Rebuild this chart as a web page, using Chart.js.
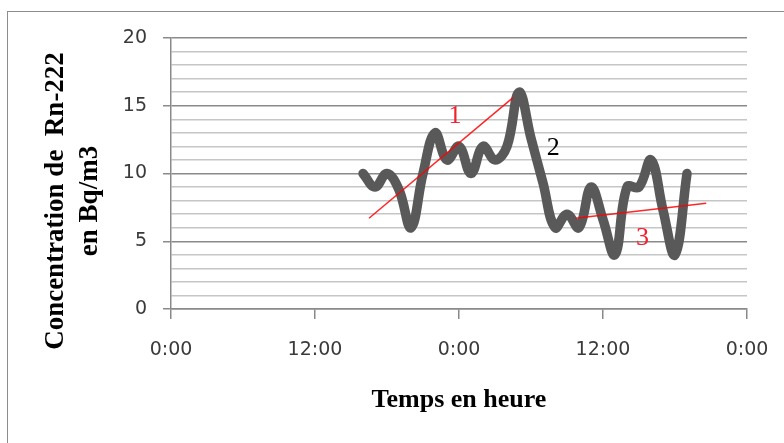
<!DOCTYPE html>
<html>
<head>
<meta charset="utf-8">
<script src="https://cdn.jsdelivr.net/npm/chart.js@4.4.1/dist/chart.umd.min.js"></script>
<style>
  html, body { margin: 0; background: #fff; }
  #frame { position: absolute; left: 7px; top: 11px; width: 820px; height: 520px; border: 1px solid #8c8c8c; }
  #chart { position: absolute; left: 0; top: 0; }
</style>
</head>
<body>
<div id="frame"></div>
<canvas id="chart" width="784" height="443"></canvas>
<script>
// hours since the first midnight, radon in Bq/m3
const hours = [16, 17, 18, 19, 20, 21, 22, 23, 24, 25, 26, 27, 28, 29,
  30, 31, 32, 33, 34, 35, 36, 37, 38, 39, 40, 41, 42, 43];
const radon = [10, 9, 10, 8.8, 6, 10, 13, 11, 12, 10, 12, 11, 12, 16,
  12.6, 9.3, 6, 7, 6, 9, 6.6, 4, 9, 9, 11, 7.3, 4, 10];

const trend1Hours = [16.5, 28.5];
const trend1Values = [6.7, 15.6];
const trend3Hours = [33.7, 44.6];
const trend3Values = [6.7, 7.8];

const labelText = ["1", "2", "3"];
const labelHours = [23.67, 31.86, 39.3];
const labelValues = [14.2, 11.87, 5.22];
const labelColors = ["#f0202c", "#000000", "#f0202c"];

const xTicks = [0, 12, 24, 36, 48];
const xTickLabels = ["0:00", "12:00", "0:00", "12:00", "0:00"];
const yTitleLines = ["Concentration de  Rn-222", "en Bq/m3"];
const xTitle = "Temps en heure";

const pts = (xs, ys) => xs.map((x, i) => ({ x, y: ys[i] }));

const major = "#8a8a8a";
const minor = "#c6c6c6";

const yTitlePlugin = {
  id: "yTitle",
  afterDraw(chart) {
    const ctx = chart.ctx;
    ctx.save();
    ctx.font = "bold 27px 'Liberation Serif'";
    ctx.fillStyle = "#000";
    ctx.textAlign = "center";
    ctx.textBaseline = "middle";
    yTitleLines.forEach((line, i) => {
      ctx.save();
      ctx.translate(56 + i * 34, 201);
      ctx.rotate(-Math.PI / 2);
      ctx.fillText(line, 0, 0);
      ctx.restore();
    });
    ctx.restore();
  },
};

const labelsPlugin = {
  id: "trendLabels",
  afterDatasetsDraw(chart) {
    const { ctx, scales } = chart;
    ctx.save();
    ctx.font = "26px 'Liberation Serif'";
    ctx.textAlign = "center";
    ctx.textBaseline = "middle";
    labelText.forEach((t, i) => {
      ctx.fillStyle = labelColors[i];
      ctx.fillText(t, scales.x.getPixelForValue(labelHours[i]), scales.y.getPixelForValue(labelValues[i]));
    });
    ctx.restore();
  },
};

new Chart(document.getElementById("chart"), {
  type: "scatter",
  data: {
    datasets: [
      {
        data: pts(trend1Hours, trend1Values),
        showLine: true,
        borderColor: "rgba(255,0,0,0.85)",
        borderWidth: 1.5,
        pointRadius: 0,
      },
      {
        data: pts(trend3Hours, trend3Values),
        showLine: true,
        borderColor: "rgba(255,0,0,0.85)",
        borderWidth: 1.5,
        pointRadius: 0,
      },
      {
        data: pts(hours, radon),
        showLine: true,
        borderColor: "#595959",
        borderWidth: 9.5,
        tension: 0.4,
        pointRadius: 0,
        borderCapStyle: "round",
        borderJoinStyle: "round",
      },
    ],
  },
  options: {
    responsive: false,
    animation: false,
    layout: { padding: { left: 0, top: 38, right: 37, bottom: 0 } },
    plugins: { legend: { display: false }, tooltip: { enabled: false } },
    scales: {
      x: {
        type: "linear",
        min: 0,
        max: 48,
        afterBuildTicks: (s) => { s.ticks = xTicks.map((v) => ({ value: v })); },
        afterFit: (s) => {
          s.height = 134;
          s.paddingLeft = 0;
          s.paddingRight = 0;
        },
        ticks: {
          padding: 20,
          color: "#3a3a3a",
          font: { family: "'DejaVu Sans'", size: 19 },
          callback: (v) => xTickLabels[xTicks.indexOf(v)],
        },
        grid: { drawOnChartArea: false, drawTicks: true, tickLength: 10, color: major, lineWidth: 1.5 },
        border: { color: major, width: 1.5 },
        title: {
          display: true,
          text: xTitle,
          color: "#000",
          font: { family: "'Liberation Serif'", size: 26, weight: "bold" },
          padding: { top: 0, bottom: 27 },
        },
      },
      y: {
        min: 0,
        max: 20,
        afterFit: (s) => { s.width = 171; },
        ticks: {
          stepSize: 1,
          autoSkip: false,
          padding: 16,
          color: "#3a3a3a",
          font: { family: "'DejaVu Sans'", size: 19 },
          callback: (v) => (v % 5 === 0 ? v : ""),
        },
        grid: {
          tickLength: 8,
          lineWidth: 1.5,
          color: (c) => (c.tick && c.tick.value % 5 === 0 ? major : minor),
          tickColor: (c) => (c.tick && c.tick.value % 5 === 0 ? major : "rgba(0,0,0,0)"),
        },
        border: { color: major, width: 1.5 },
      },
    },
  },
  plugins: [yTitlePlugin, labelsPlugin],
});
</script>
</body>
</html>
